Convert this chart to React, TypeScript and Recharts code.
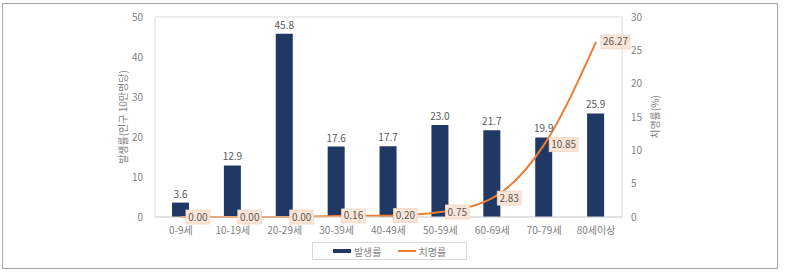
import { ComposedChart, Bar, Line, XAxis, YAxis, CartesianGrid, LabelList, Legend, Label } from 'recharts';

const ageGroups = ['0-9세', '10-19세', '20-29세', '30-39세', '40-49세', '50-59세', '60-69세', '70-79세', '80세이상'];
const incidence = [3.6, 12.9, 45.8, 17.6, 17.7, 23.0, 21.7, 19.9, 25.9];
const fatality = [0.0, 0.0, 0.0, 0.16, 0.2, 0.75, 2.83, 10.85, 26.27];
const leftTicks = [0, 10, 20, 30, 40, 50];
const rightTicks = [0, 5, 10, 15, 20, 25, 30];

const data = ageGroups.map((age, i) => ({ age, incidence: incidence[i], fatality: fatality[i] }));

const FONT = '"Noto Sans CJK KR", "Noto Sans", sans-serif';
const NAVY = '#1F3864';
const ORANGE = '#ED7D31';
const GRAY = '#595959';
const LIGHT = '#7F7F7F';

const FatalityLabel = (props: any) => {
    const { x, y, value } = props;
    const text = Number(value).toFixed(2);
    const w = text.length * 5.2 + 3;
    return (
        <g>
            <rect x={x + 5} y={y - 7} width={w} height={14} fill="#FBE5D6" stroke="#F2D6C4" strokeWidth={0.8} />
            <text x={x + 5 + w / 2} y={y} dy="0.35em" textAnchor="middle" fontSize={10} fill={GRAY} fontFamily={FONT}>
                {text}
            </text>
        </g>
    );
};

const renderLegend = () => (
    <div
        style={{
            border: '1px solid #D9D9D9',
            height: 18,
            display: 'flex',
            alignItems: 'center',
            justifyContent: 'center',
            gap: 16,
            fontFamily: FONT,
            fontSize: 10,
            color: LIGHT,
            boxSizing: 'border-box',
        }}
    >
        <span style={{ display: 'flex', alignItems: 'center', gap: 3 }}>
            <span style={{ display: 'inline-block', width: 18, height: 4, background: NAVY }} />
            발생률
        </span>
        <span style={{ display: 'flex', alignItems: 'center', gap: 3 }}>
            <span style={{ display: 'inline-block', width: 18, height: 2, background: ORANGE }} />
            치명률
        </span>
    </div>
);

export default function App() {
    return (
        <div style={{ position: 'absolute', left: 0, top: 0, width: 793, height: 272, background: '#fff' }}>
            <div
                style={{
                    position: 'absolute',
                    left: 2,
                    top: 3,
                    width: 776,
                    height: 266,
                    border: '1.5px solid #A6A6A6',
                    boxSizing: 'border-box',
                }}
            />
            <ComposedChart
                width={793}
                height={272}
                data={data}
                margin={{ top: 17, right: 0, bottom: 25, left: 0 }}
                barCategoryGap={0}
                style={{ position: 'absolute', left: 0, top: 0, fontFamily: FONT }}
            >
                <CartesianGrid
                    stroke="#D9D9D9"
                    horizontalCoordinatesGenerator={({ offset }: any) => [offset.top, offset.top + offset.height]}
                    verticalCoordinatesGenerator={({ offset }: any) => [offset.left, offset.left + offset.width]}
                />
                <XAxis
                    dataKey="age"
                    height={30}
                    tickLine={false}
                    axisLine={{ stroke: '#D9D9D9' }}
                    tickMargin={4}
                    tick={{ fontSize: 10, fill: LIGHT }}
                    interval={0}
                />
                <YAxis
                    yAxisId="left"
                    width={155}
                    domain={[0, 50]}
                    ticks={leftTicks}
                    tickLine={false}
                    axisLine={false}
                    tickMargin={6}
                    tick={{ fontSize: 10, fill: LIGHT }}
                >
                    <Label
                        value="발생률(인구 10만명당)"
                        angle={-90}
                        position="center"
                        dx={46}
                        style={{ fontSize: 10, fill: LIGHT, textAnchor: 'middle' }}
                    />
                </YAxis>
                <YAxis
                    yAxisId="right"
                    orientation="right"
                    width={171}
                    domain={[0, 30]}
                    ticks={rightTicks}
                    tickLine={false}
                    axisLine={false}
                    tickMargin={3}
                    tick={{ fontSize: 10, fill: LIGHT }}
                >
                    <Label
                        value="치명률(%)"
                        angle={-90}
                        position="center"
                        dx={-52}
                        style={{ fontSize: 10, fill: LIGHT, textAnchor: 'middle' }}
                    />
                </YAxis>
                <Legend
                    verticalAlign="middle"
                    content={renderLegend}
                    wrapperStyle={{ left: 312, top: 242, width: 155, height: 19 }}
                />
                <Bar yAxisId="left" dataKey="incidence" name="발생률" fill={NAVY} barSize={17} isAnimationActive={false}>
                    <LabelList
                        dataKey="incidence"
                        position="top"
                        offset={5}
                        fontSize={10}
                        fill={GRAY}
                        formatter={(v: any) => Number(v).toFixed(1)}
                    />
                </Bar>
                <Line
                    yAxisId="right"
                    type="monotone"
                    dataKey="fatality"
                    name="치명률"
                    stroke={ORANGE}
                    strokeWidth={2}
                    dot={false}
                    activeDot={false}
                    isAnimationActive={false}
                >
                    <LabelList dataKey="fatality" content={FatalityLabel} />
                </Line>
            </ComposedChart>
        </div>
    );
}
